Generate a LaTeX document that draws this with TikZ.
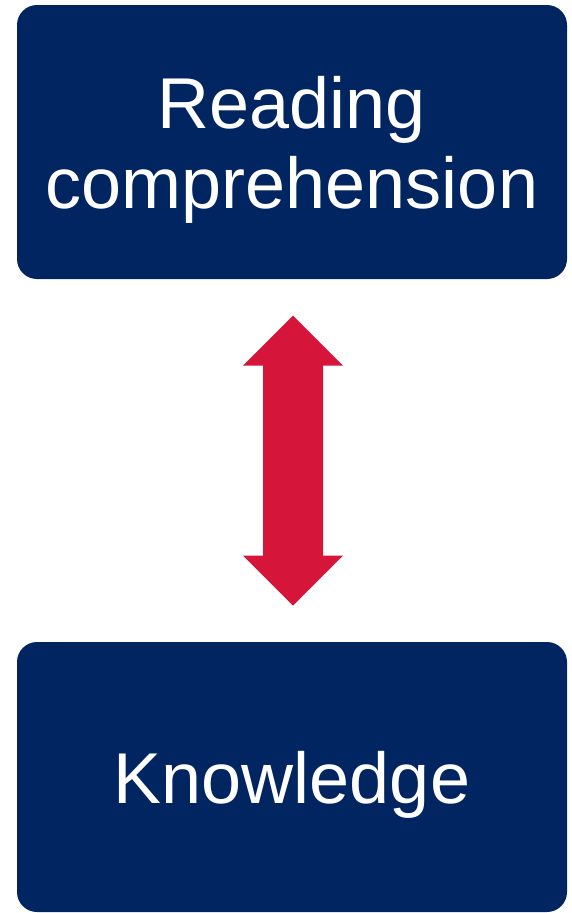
\documentclass[tikz,border=0pt]{standalone}
\usepackage{fontspec}
\setmainfont{Liberation Sans}
\usetikzlibrary{calc}
\definecolor{navy}{RGB}{0,37,96}
\definecolor{arrowred}{RGB}{214,21,58}
\tikzset{
  bluebox/.style={fill=navy, draw=none, rounded corners=20pt, minimum width=550pt,
    inner sep=0pt, outer sep=0pt, text=white, align=center, text depth=0pt,
    font=\fontsize{72}{80}\selectfont},
  bigarrow/.style={fill=arrowred, draw=none}
}
\begin{document}
\begin{tikzpicture}[x=1pt,y=-1pt]
\useasboundingbox (0,0) rectangle (572,913);
\node[bluebox, minimum height=274pt] (rc) at (292,142) {Reading\\comprehension};
\node[bluebox, minimum height=270pt] (kn) at (292,777) {Knowledge};
\coordinate (mid) at ($(rc.south)!0.5!(kn.north)+(1,0)$);
\fill[bigarrow]
  ($(mid)+(0,-145)$) -- ($(mid)+(50,-95)$) -- ($(mid)+(30,-95)$) --
  ($(mid)+(30,95)$) -- ($(mid)+(50,95)$) -- ($(mid)+(0,145)$) --
  ($(mid)+(-50,95)$) -- ($(mid)+(-30,95)$) -- ($(mid)+(-30,-95)$) --
  ($(mid)+(-50,-95)$) -- cycle;
\end{tikzpicture}
\end{document}
